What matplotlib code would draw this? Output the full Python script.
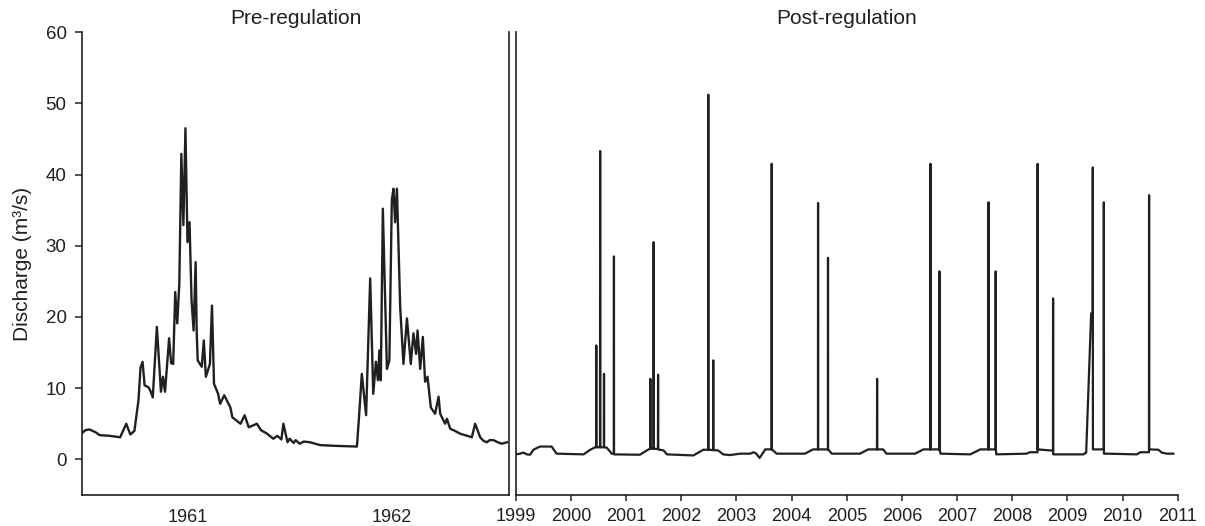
"""Discharge hydrographs before and after regulation."""

import matplotlib.pyplot as plt

plt.rcParams["font.family"] = ["Liberation Sans", "DejaVu Sans"]

INK = "#231f20"

# pre-regulation record (decimal year, m3/s)
pre_t = [1960.48, 1960.50, 1960.52, 1960.55, 1960.57, 1960.62, 1960.67, 1960.70, 1960.72,
         1960.74, 1960.76, 1960.77, 1960.78, 1960.79, 1960.81, 1960.82, 1960.83, 1960.85,
         1960.87, 1960.88, 1960.89, 1960.91, 1960.92, 1960.93, 1960.94, 1960.95, 1960.96,
         1960.97, 1960.98, 1960.99, 1961.00, 1961.01, 1961.02, 1961.03, 1961.04, 1961.045,
         1961.05, 1961.07, 1961.08, 1961.09, 1961.11, 1961.12, 1961.13, 1961.15, 1961.16,
         1961.18, 1961.21, 1961.22, 1961.26, 1961.28, 1961.30, 1961.34, 1961.36, 1961.39,
         1961.42, 1961.44, 1961.46, 1961.47, 1961.49, 1961.50, 1961.52, 1961.53, 1961.55,
         1961.57, 1961.60, 1961.65, 1961.72, 1961.83,
         1961.84, 1961.854, 1961.875, 1961.895, 1961.91, 1961.923, 1961.933, 1961.94, 1961.947,
         1961.957, 1961.977, 1961.989, 1962.001, 1962.009, 1962.017, 1962.026, 1962.042,
         1962.058, 1962.075, 1962.094, 1962.107, 1962.12, 1962.127, 1962.14, 1962.153,
         1962.164, 1962.176, 1962.192, 1962.213, 1962.23, 1962.238, 1962.262, 1962.271,
         1962.287, 1962.31, 1962.336, 1962.36, 1962.393, 1962.409, 1962.434, 1962.45,
         1962.467, 1962.48, 1962.499, 1962.52, 1962.54, 1962.565]
pre_q = [3.6, 4.1, 4.2, 3.8, 3.4, 3.3, 3.1, 5.0, 3.5,
         4.0, 8.3, 12.9, 13.7, 10.4, 10.1, 9.5, 8.7, 18.6,
         9.5, 11.6, 9.5, 17.0, 13.5, 13.4, 23.5, 19.1, 24.7,
         42.9, 32.9, 46.5, 30.5, 33.3, 22.3, 18.1, 27.7, 18.1,
         13.9, 13.0, 16.7, 11.6, 13.4, 21.6, 10.6, 9.2, 7.8,
         9.0, 7.3, 5.9, 5.0, 6.2, 4.5, 5.0, 4.1, 3.6,
         2.9, 3.3, 2.8, 5.0, 2.4, 2.9, 2.3, 2.7, 2.2,
         2.5, 2.4, 2.0, 1.9, 1.8,
         5.8, 12.0, 6.2, 25.4, 9.2, 13.7, 11.1, 15.3, 11.1,
         35.2, 12.7, 13.9, 36.4, 38.0, 33.3, 38.0, 21.4,
         13.4, 19.8, 13.4, 17.7, 14.8, 18.1, 12.7, 17.2,
         10.9, 11.6, 7.3, 6.4, 8.8, 6.4, 5.0, 5.7,
         4.3, 4.0, 3.6, 3.4, 3.1, 5.0, 3.1, 2.6,
         2.4, 2.7, 2.7, 2.4, 2.2, 2.4]

# post-regulation record (decimal year, m3/s); spikes are single-day peaks
post_t = [1999.00, 1999.08, 1999.14, 1999.20, 1999.26, 1999.32, 1999.44, 1999.65, 1999.74,
          2000.23, 2000.35, 2000.44,
          2000.458, 2000.46, 2000.462, 2000.528, 2000.53, 2000.532, 2000.598, 2000.60, 2000.602,
          2000.65, 2000.74, 2000.778, 2000.78, 2000.782,
          2001.25, 2001.43,
          2001.438, 2001.44, 2001.442, 2001.498, 2001.50, 2001.502, 2001.578, 2001.58, 2001.582,
          2001.68, 2001.74,
          2002.22, 2002.40,
          2002.488, 2002.49, 2002.492, 2002.578, 2002.58, 2002.582,
          2002.67, 2002.76, 2002.88,
          2003.07, 2003.25, 2003.31, 2003.36, 2003.42, 2003.49, 2003.52,
          2003.638, 2003.64, 2003.642, 2003.73,
          2004.24, 2004.39,
          2004.478, 2004.48, 2004.482, 2004.658, 2004.66, 2004.662, 2004.73,
          2005.24, 2005.39, 2005.548, 2005.55, 2005.552, 2005.66, 2005.72,
          2006.24, 2006.39,
          2006.518, 2006.52, 2006.522, 2006.678, 2006.68, 2006.682, 2006.70,
          2007.24, 2007.42,
          2007.568, 2007.57, 2007.572, 2007.698, 2007.70, 2007.702, 2007.71,
          2008.26, 2008.32, 2008.458, 2008.46, 2008.462, 2008.69, 2008.738, 2008.74, 2008.742,
          2009.29, 2009.34, 2009.43, 2009.458, 2009.46, 2009.462,
          2009.658, 2009.66, 2009.662, 2009.71,
          2010.26, 2010.32, 2010.478, 2010.48, 2010.482, 2010.65, 2010.71, 2010.80, 2010.92]
post_q = [0.7, 0.8, 0.95, 0.7, 0.65, 1.35, 1.8, 1.8, 0.8,
          0.7, 1.35, 1.7,
          1.7, 16.0, 1.7, 1.7, 43.3, 1.7, 1.7, 12.0, 1.7,
          1.65, 0.8, 0.8, 28.5, 0.7,
          0.65, 1.5,
          1.5, 11.3, 1.5, 1.5, 30.5, 1.5, 1.45, 11.9, 1.4,
          1.25, 0.7,
          0.55, 1.35,
          1.35, 51.2, 1.35, 1.3, 13.9, 1.3,
          1.25, 0.7, 0.6,
          0.8, 0.8, 1.0, 0.8, 0.2, 1.0, 1.4,
          1.4, 41.5, 1.4, 0.8,
          0.8, 1.4,
          1.4, 36.0, 1.4, 1.4, 28.3, 1.4, 0.8,
          0.8, 1.4, 1.4, 11.3, 1.4, 1.4, 0.8,
          0.8, 1.4,
          1.4, 41.5, 1.4, 1.4, 26.4, 1.4, 0.8,
          0.7, 1.4,
          1.4, 36.1, 1.4, 1.4, 26.4, 1.4, 0.7,
          0.8, 1.0, 1.0, 41.5, 1.4, 1.25, 1.25, 22.6, 0.7,
          0.7, 0.95, 20.5, 20.5, 41.0, 1.4,
          1.4, 36.1, 0.8, 0.8,
          0.7, 1.0, 1.0, 37.1, 1.4, 1.35, 0.95, 0.8, 0.8]

pre_ticks = [1961, 1962]
post_ticks = list(range(1999, 2012))
y_ticks = [0, 10, 20, 30, 40, 50, 60]

fig = plt.figure(figsize=(12.05, 5.26), dpi=100)
ax1 = fig.add_axes([0.068, 0.059, 0.3544, 0.880])
ax2 = fig.add_axes([0.428, 0.059, 0.5494, 0.880])

ax1.plot(pre_t, pre_q, color=INK, lw=1.7)
ax2.plot(post_t, post_q, color=INK, lw=1.6)

for ax in (ax1, ax2):
    ax.set_ylim(-5, 60)
    ax.spines["top"].set_visible(False)
    for s in ax.spines.values():
        s.set_color(INK)
        s.set_linewidth(1.2)

# left panel
ax1.set_xlim(1960.483, 1962.575)
ax1.set_xticks(pre_ticks)
ax1.set_xticklabels([str(y) for y in pre_ticks])
ax1.tick_params(axis="x", length=0, pad=10, labelsize=13, colors=INK)
ax1.set_yticks(y_ticks)
ax1.tick_params(axis="y", length=5, width=1.1, pad=6, labelsize=13.5, colors=INK)
ax1.set_ylabel("Discharge (m³/s)", fontsize=15, color=INK, labelpad=10)
ax1.set_title("Pre-regulation", fontsize=15, color=INK, pad=6)

# right panel
ax2.set_xlim(1999, 2011)
ax2.spines["right"].set_visible(False)
ax2.set_xticks(post_ticks)
ax2.set_xticklabels([str(y) for y in post_ticks])
ax2.tick_params(axis="x", length=4.5, width=1.1, pad=5, labelsize=13, colors=INK)
ax2.tick_params(axis="y", left=False, labelleft=False)
ax2.set_title("Post-regulation", fontsize=15, color=INK, pad=6)

fig.savefig("out.png", dpi=100)
